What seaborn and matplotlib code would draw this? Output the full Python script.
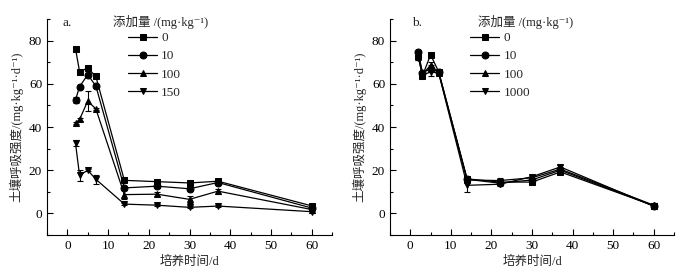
import numpy as np
import pandas as pd
import matplotlib
matplotlib.use("Agg")
import matplotlib.pyplot as plt
import seaborn as sns

sns.set_theme(style="ticks")
plt.rcParams['font.family'] = ['Liberation Serif', 'Noto Sans CJK SC', 'DejaVu Serif']
plt.rcParams['axes.unicode_minus'] = False

days = [2, 3, 5, 7, 14, 22, 30, 37, 60]

# Panel a
a_labels = ["0", "10", "100", "150"]
a_0 = [76.3, 65.6, 67.3, 63.4, 15.3, 14.7, 14.1, 14.9, 3.5]
a_10 = [52.5, 58.7, 64.2, 59.0, 11.8, 12.6, 11.4, 14.3, 2.5]
a_100 = [41.8, 43.5, 52.0, 48.4, 8.7, 8.9, 6.5, 10.3, 1.8]
a_150 = [32.5, 17.6, 20.0, 15.8, 4.3, 3.8, 2.8, 3.4, 0.8]
a_0_err = [0.5, 0.5, 0.8, 0.5, 0.5, 0.5, 0.4, 0.5, 0.4]
a_10_err = [1.5, 0.5, 0.8, 0.8, 0.8, 0.8, 1.2, 0.6, 0.4]
a_100_err = [0.6, 0.6, 4.5, 0.6, 2.0, 1.0, 1.5, 1.2, 0.3]
a_150_err = [1.5, 2.5, 0.6, 2.0, 0.5, 0.5, 0.5, 0.5, 0.4]

# Panel b
b_labels = ["0", "10", "100", "1000"]
b_0 = [72.7, 63.7, 73.4, 65.6, 16.0, 14.5, 14.5, 19.2, 3.6]
b_10 = [74.5, 65.0, 67.0, 65.5, 15.8, 14.0, 15.5, 20.0, 3.5]
b_100 = [73.5, 64.5, 68.5, 65.0, 15.5, 15.2, 16.5, 20.5, 3.8]
b_1000 = [72.0, 64.0, 65.5, 65.0, 13.0, 13.5, 17.0, 21.5, 3.3]
b_0_err = [1.5, 0.6, 1.0, 0.6, 0.6, 0.6, 0.8, 0.6, 0.5]
b_10_err = [1.0, 0.6, 1.5, 0.6, 0.6, 0.6, 0.6, 0.6, 0.5]
b_100_err = [1.0, 0.6, 1.5, 0.6, 0.6, 1.0, 0.8, 0.8, 0.5]
b_1000_err = [1.0, 0.6, 2.0, 0.6, 3.0, 1.0, 0.8, 1.0, 0.8]

legend_title = "添加量 /(mg·kg⁻¹)"
y_label = "土壤呼吸强度/(mg·kg⁻¹·d⁻¹)"
x_label = "培养时间/d"

markers = ['s', 'o', '^', 'v']


def panel(ax, labels, series, errs, tag, tag_x, title_x, leg_x):
    rows = []
    for lab, vals in zip(labels, series):
        for d, v in zip(days, vals):
            rows.append({"day": d, "val": v, "dose": lab})
    df = pd.DataFrame(rows)
    mk = {lab: m for lab, m in zip(labels, markers)}
    sns.lineplot(data=df, x="day", y="val", style="dose", markers=mk,
                 dashes=False, color="black", markersize=5, linewidth=0.9,
                 markeredgecolor="black", ax=ax, style_order=labels)
    for vals, err in zip(series, errs):
        ax.errorbar(days, vals, yerr=err, fmt='none', ecolor='black',
                    elinewidth=0.8, capsize=2, capthick=0.8)
    ax.set_xlim(-5, 65)
    ax.set_ylim(-10, 90)
    ax.set_xticks([0, 10, 20, 30, 40, 50, 60])
    ax.set_xticks(np.arange(-5, 66, 5), minor=True)
    ax.set_yticks([0, 20, 40, 60, 80])
    ax.set_yticks([-10, 10, 30, 50, 70, 90], minor=True)
    ax.tick_params(which='both', direction='in', labelsize=9.5, width=0.8,
                   colors='black')
    ax.tick_params(which='major', length=4)
    ax.tick_params(which='minor', length=2.5)
    for s in ['top', 'right']:
        ax.spines[s].set_visible(False)
    for s in ['left', 'bottom']:
        ax.spines[s].set_linewidth(0.8)
        ax.spines[s].set_color('black')
    ax.set_xlabel(x_label, fontsize=9, labelpad=3)
    ax.set_ylabel(y_label, fontsize=9, labelpad=4)
    ax.text(tag_x, 1.01, tag, transform=ax.transAxes, fontsize=9.5, va='top')
    ax.text(title_x, 1.02, legend_title, transform=ax.transAxes,
            fontsize=9, va='top')
    ax.legend(loc='upper left', bbox_to_anchor=(leg_x, 0.94), frameon=False,
              fontsize=9.5, handlelength=2.2, handletextpad=0.3,
              labelspacing=0.45, borderpad=0.0, borderaxespad=0.0)


fig = plt.figure(figsize=(6.99, 2.79), dpi=100)
ax1 = fig.add_axes([47/699, 44/279, 285/699, 216/279])
ax2 = fig.add_axes([390/699, 44/279, 284/699, 216/279])
panel(ax1, a_labels, [a_0, a_10, a_100, a_150],
      [a_0_err, a_10_err, a_100_err, a_150_err], "a.", 0.056, 0.232, 0.285)
panel(ax2, b_labels, [b_0, b_10, b_100, b_1000],
      [b_0_err, b_10_err, b_100_err, b_1000_err], "b.", 0.077, 0.31, 0.283)
fig.savefig("out.png", dpi=100)
